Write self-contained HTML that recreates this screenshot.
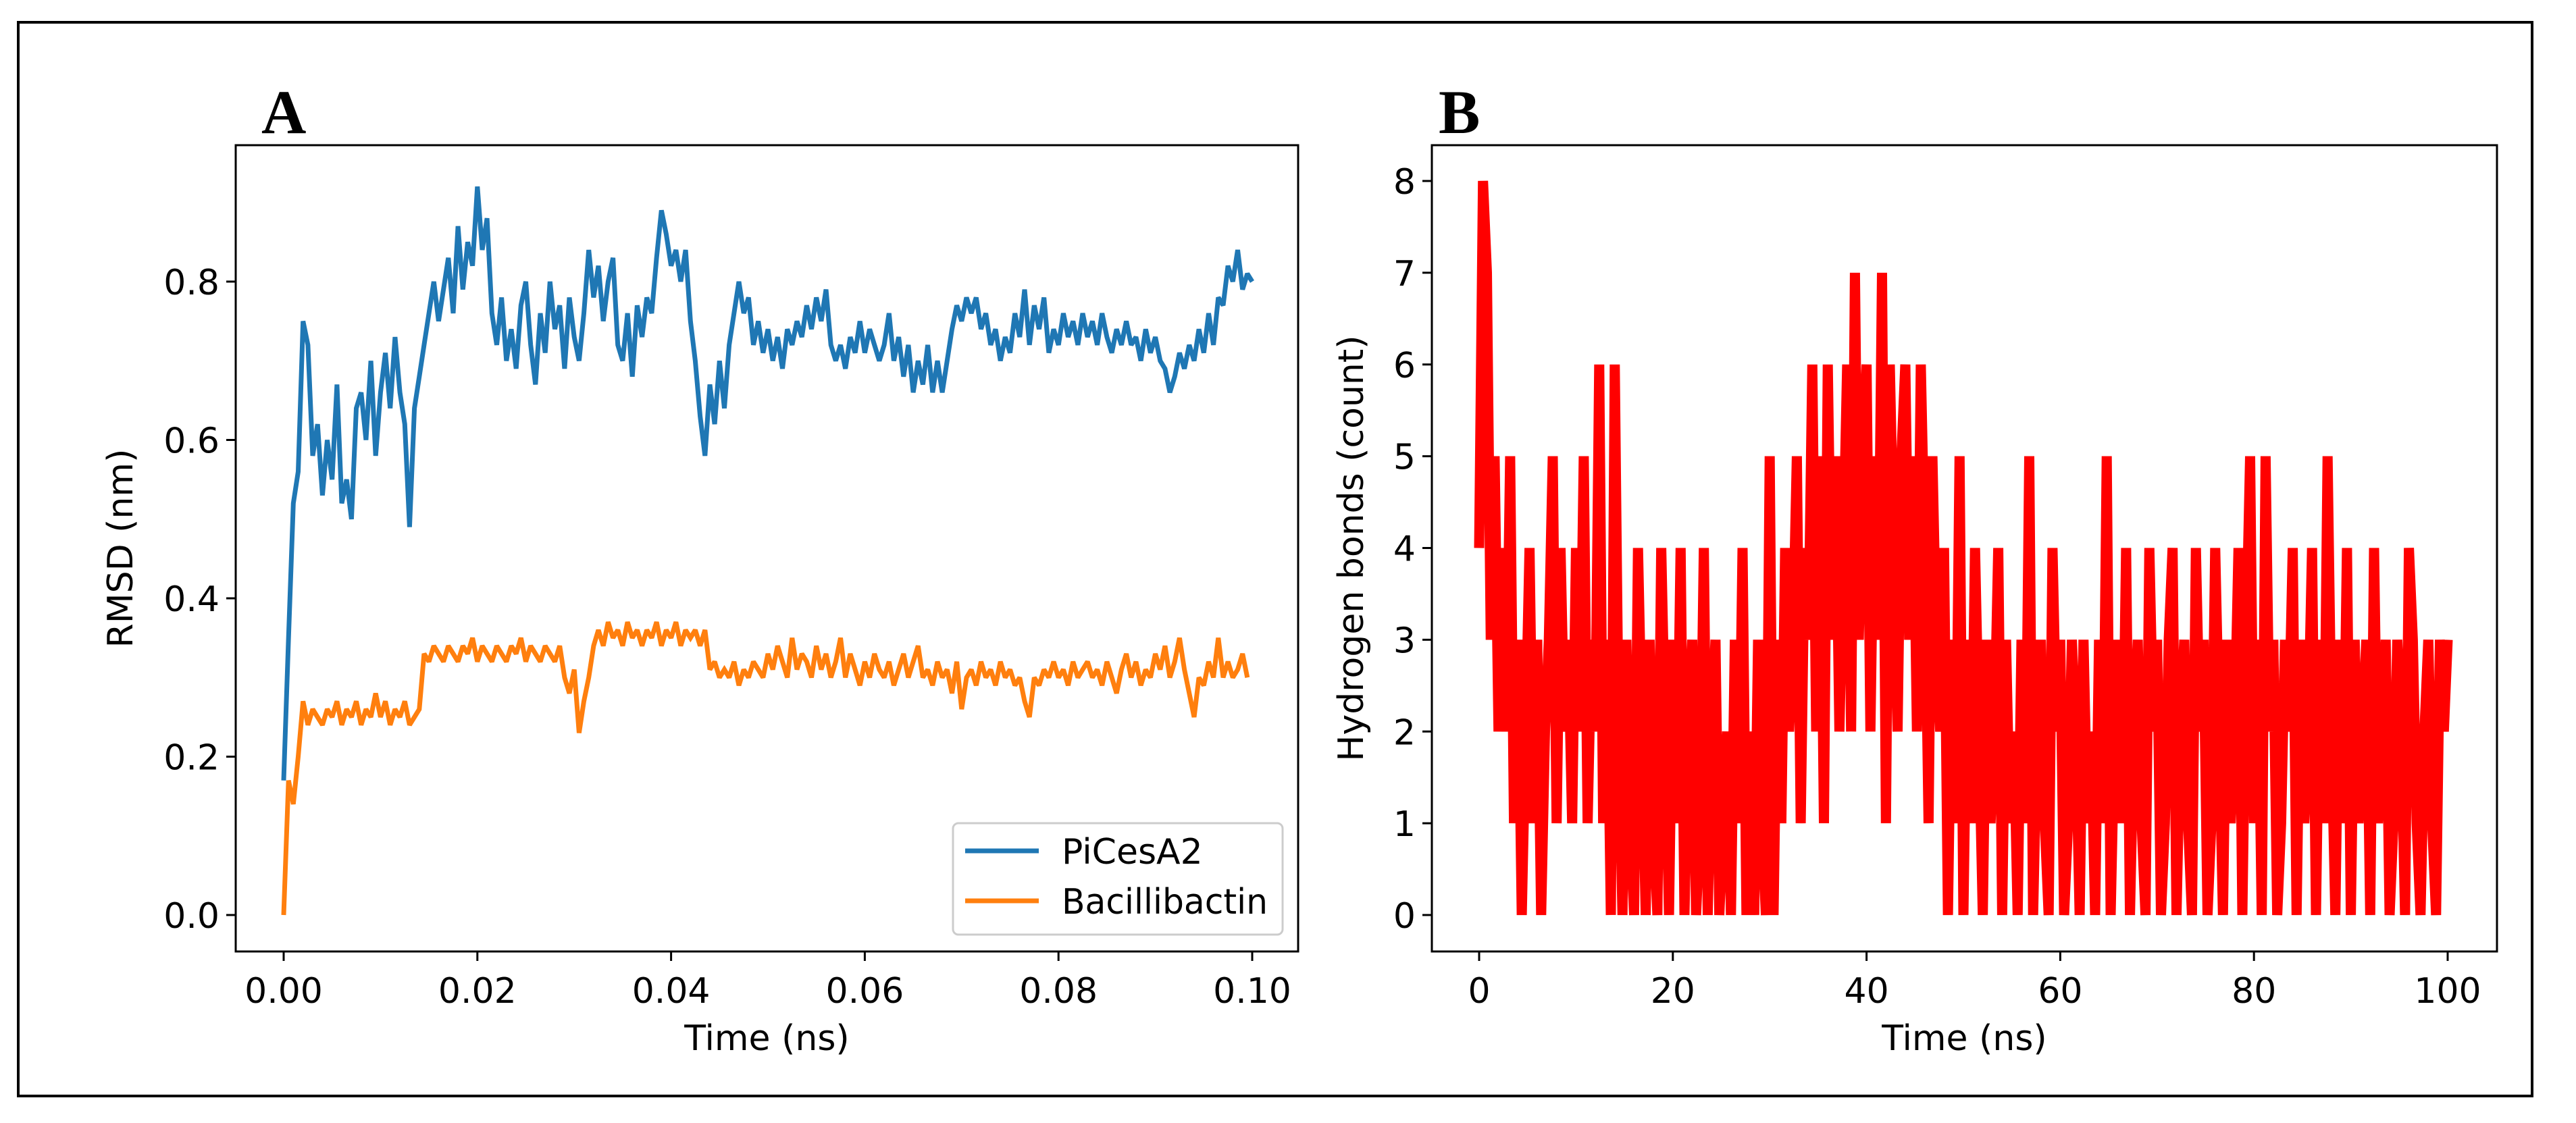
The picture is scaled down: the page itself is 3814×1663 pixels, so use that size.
<!DOCTYPE html>
<html><head><meta charset="utf-8"><style>
html,body{margin:0;padding:0;background:#fff;}
svg{display:block;font-family:"DejaVu Sans","Liberation Sans",sans-serif;}
</style></head><body>
<svg id="fig" width="3814" height="1663" viewBox="0 0 3814 1663" xmlns="http://www.w3.org/2000/svg">
<rect x="27" y="33" width="3722" height="1590" fill="none" stroke="#000" stroke-width="4"/>
<text x="387" y="197" font-family="Liberation Serif, serif" font-weight="bold" font-size="92">A</text>
<text x="2130" y="197" font-family="Liberation Serif, serif" font-weight="bold" font-size="92">B</text>
<g id="gA"></g>
<g id="gB"></g>
</svg>
<script>
const rmsdStep = 0.0005;
const piCesA2 = [0.17,0.35,0.52,0.56,0.75,0.72,0.58,0.62,0.53,0.60,0.55,0.67,0.52,0.55,0.50,0.64,0.66,0.60,0.70,0.58,0.66,0.71,0.64,0.73,0.66,0.62,0.49,0.64,0.68,0.72,0.76,0.80,0.75,0.79,0.83,0.76,0.87,0.79,0.85,0.82,0.92,0.84,0.88,0.76,0.72,0.78,0.70,0.74,0.69,0.77,0.80,0.72,0.67,0.76,0.71,0.80,0.74,0.77,0.69,0.78,0.73,0.70,0.76,0.84,0.78,0.82,0.75,0.80,0.83,0.72,0.70,0.76,0.68,0.77,0.73,0.78,0.76,0.83,0.89,0.86,0.82,0.84,0.80,0.84,0.75,0.70,0.63,0.58,0.67,0.62,0.70,0.64,0.72,0.76,0.80,0.76,0.78,0.72,0.75,0.71,0.74,0.70,0.73,0.69,0.74,0.72,0.75,0.73,0.77,0.74,0.78,0.75,0.79,0.72,0.70,0.72,0.69,0.73,0.71,0.75,0.71,0.74,0.72,0.70,0.72,0.76,0.70,0.73,0.68,0.72,0.66,0.70,0.67,0.72,0.66,0.70,0.66,0.70,0.74,0.77,0.75,0.78,0.76,0.78,0.74,0.76,0.72,0.74,0.70,0.73,0.71,0.76,0.73,0.79,0.72,0.77,0.74,0.78,0.71,0.74,0.72,0.76,0.73,0.75,0.72,0.76,0.73,0.75,0.72,0.76,0.73,0.71,0.74,0.72,0.75,0.72,0.73,0.70,0.74,0.71,0.73,0.70,0.69,0.66,0.68,0.71,0.69,0.72,0.70,0.74,0.71,0.76,0.72,0.78,0.77,0.82,0.80,0.84,0.79,0.81,0.80];
const bacillibactin = [0.00,0.17,0.14,0.20,0.27,0.24,0.26,0.25,0.24,0.26,0.25,0.27,0.24,0.26,0.25,0.27,0.24,0.26,0.25,0.28,0.25,0.27,0.24,0.26,0.25,0.27,0.24,0.25,0.26,0.33,0.32,0.34,0.33,0.32,0.34,0.33,0.32,0.34,0.33,0.35,0.32,0.34,0.33,0.32,0.34,0.33,0.32,0.34,0.33,0.35,0.32,0.34,0.33,0.32,0.34,0.33,0.32,0.34,0.30,0.28,0.31,0.23,0.27,0.30,0.34,0.36,0.34,0.37,0.35,0.36,0.34,0.37,0.35,0.36,0.34,0.36,0.35,0.37,0.34,0.36,0.35,0.37,0.34,0.36,0.35,0.36,0.34,0.36,0.31,0.32,0.30,0.31,0.30,0.32,0.29,0.31,0.30,0.32,0.31,0.30,0.33,0.31,0.34,0.32,0.30,0.35,0.31,0.33,0.32,0.30,0.34,0.31,0.33,0.30,0.32,0.35,0.30,0.33,0.31,0.29,0.32,0.30,0.33,0.31,0.30,0.32,0.29,0.31,0.33,0.30,0.32,0.34,0.30,0.31,0.29,0.32,0.30,0.31,0.28,0.32,0.26,0.30,0.31,0.29,0.32,0.30,0.31,0.29,0.32,0.30,0.31,0.29,0.30,0.27,0.25,0.30,0.29,0.31,0.30,0.32,0.30,0.31,0.29,0.32,0.30,0.31,0.32,0.30,0.31,0.29,0.32,0.30,0.28,0.31,0.33,0.30,0.32,0.29,0.31,0.30,0.33,0.31,0.34,0.30,0.32,0.35,0.31,0.28,0.25,0.30,0.29,0.32,0.30,0.35,0.30,0.32,0.30,0.31,0.33,0.30];
const rmsdXTicks = [0.00,0.02,0.04,0.06,0.08,0.10];
const rmsdXLabels = ["0.00","0.02","0.04","0.06","0.08","0.10"];
const rmsdYTicks = [0.0,0.2,0.4,0.6,0.8];
const rmsdYLabels = ["0.0","0.2","0.4","0.6","0.8"];
const hbStep = 0.4;
const hbonds = [4,8,7,3,5,2,4,2,5,1,3,0,2,4,1,3,0,2,3,5,1,4,2,3,1,
4,2,5,1,3,2,6,1,3,0,6,2,0,3,1,0,4,2,0,3,1,0,4,2,0,
3,1,4,0,2,3,0,1,4,0,2,3,0,1,2,0,3,1,4,0,2,0,3,1,0,
5,0,3,1,4,2,3,5,1,4,3,6,2,5,1,6,3,5,2,4,6,2,7,3,5,
6,2,5,3,7,1,6,4,2,5,6,3,5,2,6,4,1,5,3,2,4,0,3,1,5,
0,3,1,4,2,0,3,1,2,4,0,3,1,2,0,3,1,5,0,2,3,1,0,4,2,
3,0,1,3,2,0,3,1,2,0,3,1,5,0,2,3,1,4,0,2,3,1,0,4,2,
3,0,1,3,4,0,2,3,1,0,4,2,3,0,1,4,2,0,3,1,2,4,0,3,5,
1,3,0,5,2,3,0,1,3,2,4,0,3,1,2,4,0,3,1,5,2,0,3,1,4,
0,3,1,2,3,0,4,1,2,3,0,1,3,2,0,4,3,1,0,2,3,1,0,3,2,3];
const hbXTicks = [0,20,40,60,80,100];
const hbXLabels = ["0","20","40","60","80","100"];
const hbYTicks = [0,1,2,3,4,5,6,7,8];
const hbYLabels = ["0","1","2","3","4","5","6","7","8"];

const NS="http://www.w3.org/2000/svg";
const FS=52;
function mk(parent,tag,attrs,text){const e=document.createElementNS(NS,tag);for(const k in attrs)e.setAttribute(k,attrs[k]);if(text!==undefined)e.textContent=text;parent.appendChild(e);return e;}

function axes(g,box,xs,ys,xt,xl,yt,yl,xtitle,ytitle,ytx){
  const frame=mk(g,'rect',{x:box.l,y:box.t,width:box.r-box.l,height:box.b-box.t,fill:'none',stroke:'#000','stroke-width':3});
  
  
  xt.forEach((v,i)=>{const x=xs(v);
    const t=mk(g,'line',{x1:x,x2:x,y1:box.b,y2:box.b+14,stroke:'#000','stroke-width':3});
    
    
    const l=mk(g,'text',{x:x,y:box.b+76,'font-size':FS,'text-anchor':'middle'},xl[i]);
    
    });
  yt.forEach((v,i)=>{const y=ys(v);
    const t=mk(g,'line',{x1:box.l-14,x2:box.l,y1:y,y2:y,stroke:'#000','stroke-width':3});
    
    
    const l=mk(g,'text',{x:box.l-24,y:y+19,'font-size':FS,'text-anchor':'end'},yl[i]);
    
    });
  const xa=mk(g,'text',{x:(box.l+box.r)/2,y:box.b+146,'font-size':FS,'text-anchor':'middle'},xtitle);
  
  
  const cy=(box.t+box.b)/2;
  const ya=mk(g,'text',{x:ytx,y:cy,'font-size':FS,'text-anchor':'middle',transform:`rotate(-90 ${ytx} ${cy})`,'dominant-baseline':'middle'},ytitle);
  
  
}
function path(g,vals,step,xs,ys,color,w,name){
  const d=vals.map((v,i)=>(i?'L':'M')+xs(i*step).toFixed(1)+' '+ys(v).toFixed(1)).join('');
  const p=mk(g,'path',{d:d,fill:'none',stroke:color,'stroke-width':w,'stroke-linejoin':'miter','stroke-miterlimit':2});
  
  
}
// Panel A
const gA=document.getElementById('gA');
const boxA={l:349,r:1922,t:215,b:1409};
const xsA=v=>420+(v-0)/0.1*(1854-420);
const ysA=v=>1355-v/0.8*(1355-417);
path(gA,piCesA2,rmsdStep,xsA,ysA,'#1f77b4',7,'picesa2-line');
path(gA,bacillibactin,rmsdStep,xsA,ysA,'#ff7f0e',7,'bacillibactin-line');
axes(gA,boxA,xsA,ysA,rmsdXTicks,rmsdXLabels,rmsdYTicks,rmsdYLabels,'Time (ns)','RMSD (nm)',182);
const lg=mk(gA,'g',{});


mk(lg,'rect',{x:1411,y:1219,width:488,height:165,rx:8,fill:'#fff','fill-opacity':0.8,stroke:'#ccc','stroke-width':3});
const le1=mk(lg,'line',{x1:1429,x2:1538,y1:1260,y2:1260,stroke:'#1f77b4','stroke-width':7});


const lt1=mk(lg,'text',{x:1572,y:1279,'font-size':FS},'PiCesA2');


const le2=mk(lg,'line',{x1:1429,x2:1538,y1:1334,y2:1334,stroke:'#ff7f0e','stroke-width':7});


const lt2=mk(lg,'text',{x:1572,y:1353,'font-size':FS,textLength:305,lengthAdjust:'spacingAndGlyphs'},'Bacillibactin');


// Panel B
const gB=document.getElementById('gB');
const boxB={l:2120,r:3697,t:215,b:1409};
const xsB=v=>2190+v/100*(3624-2190);
const ysB=v=>1355-v/8*(1355-268);
path(gB,hbonds,hbStep,xsB,ysB,'#ff0000',15,'hbond-line');
axes(gB,boxB,xsB,ysB,hbXTicks,hbXLabels,hbYTicks,hbYLabels,'Time (ns)','Hydrogen bonds (count)',2004);
</script>
</body></html>
